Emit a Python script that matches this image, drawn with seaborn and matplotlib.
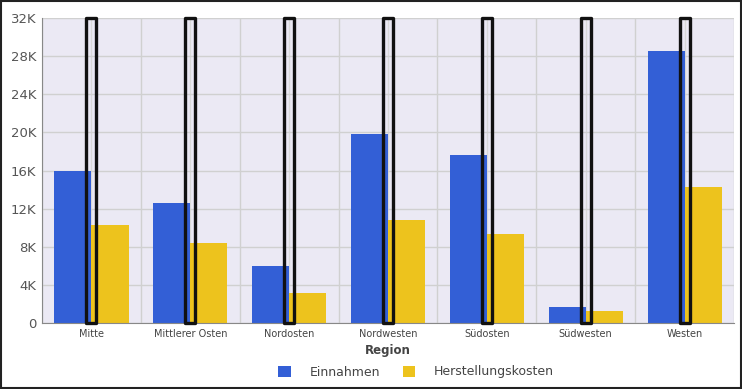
import matplotlib.pyplot as plt
import pandas as pd
import seaborn as sns
from matplotlib.patches import Patch
from matplotlib.ticker import FuncFormatter, MultipleLocator

# Data
regionen = ['Mitte', 'Mittlerer Osten', 'Nordosten', 'Nordwesten', 'Südosten', 'Südwesten', 'Westen']
einnahmen = [16000, 12600, 6000, 19800, 17600, 1700, 28500]
herstellungskosten = [10300, 8400, 3150, 10800, 9300, 1250, 14250]
grenze = [32000, 32000, 32000, 32000, 32000, 32000, 32000]

data = pd.DataFrame({'Region': regionen, 'Einnahmen': einnahmen,
                     'Herstellungskosten': herstellungskosten})
data_long = pd.melt(data, id_vars=['Region'], value_vars=['Einnahmen', 'Herstellungskosten'],
                    var_name='Serie', value_name='Wert')

blau = '#335fd6'
gelb = '#edc31d'

sns.set_style('white')
plt.rcParams['font.family'] = ['DejaVu Sans']

fig = plt.figure(figsize=(7.42, 3.89), dpi=100, facecolor='white')
ax = fig.add_axes([42 / 742, 1 - 323 / 389, 692 / 742, 305 / 389])
ax.set_facecolor('#ebe9f4')

sns.barplot(x='Region', y='Wert', hue='Serie', data=data_long, palette=[blau, gelb],
            width=0.75, saturation=1, linewidth=0, ax=ax, legend=False, zorder=2)

# outlined full-height rectangles at the category centres
sns.barplot(x=regionen, y=grenze, fill=False, color='black', width=0.1,
            linewidth=2.4, ax=ax, zorder=3)
for p in ax.patches[-len(regionen):]:
    p.set_joinstyle('round')
    p.set_edgecolor('#111111')
    p.set_clip_on(False)

ax.set_ylim(0, 32000)
ax.set_xlim(-0.5, len(regionen) - 0.5)
ax.yaxis.set_major_locator(MultipleLocator(4000))
ax.yaxis.set_major_formatter(FuncFormatter(lambda v, _: '0' if v == 0 else f'{int(v / 1000)}K'))

# gridlines: horizontal at ticks, vertical at category borders and centres
ax.set_axisbelow(True)
ax.grid(axis='y', color='#d0d0d0', linewidth=1)
for i in range(len(regionen) + 1):
    ax.axvline(i - 0.5, color='#d0d0d0', linewidth=1, zorder=0)
for i in range(len(regionen)):
    ax.axvline(i, color='#d8d8d8', linewidth=1, zorder=0)

for s in ['top', 'right']:
    ax.spines[s].set_visible(False)
ax.spines['left'].set_color('#888888')
ax.spines['bottom'].set_color('#888888')

ax.tick_params(axis='x', labelsize=7, colors='#444444', length=0, pad=4)
ax.tick_params(axis='y', labelsize=9.5, labelcolor='#555555', length=0, pad=4)
ax.set_xlabel('Region', fontsize=8.5, fontweight='bold', color='#444444', labelpad=4)
ax.set_ylabel('')

handles = [Patch(facecolor=blau, edgecolor='none'), Patch(facecolor=gelb, edgecolor='none')]
fig.legend(handles=handles, labels=['Einnahmen', 'Herstellungskosten'], loc='center',
           bbox_to_anchor=(416 / 742, 1 - 372 / 389), ncol=2, frameon=False,
           handlelength=1.0, handleheight=1.0, handletextpad=1.5, columnspacing=1.8,
           fontsize=9, labelcolor='#444444')

# frame around the whole picture
fig.patches.append(plt.Rectangle((0.001, 0.002), 0.998, 0.996, transform=fig.transFigure,
                                 fill=False, edgecolor='#222222', linewidth=1.5))

fig.savefig('out.png', dpi=100)
